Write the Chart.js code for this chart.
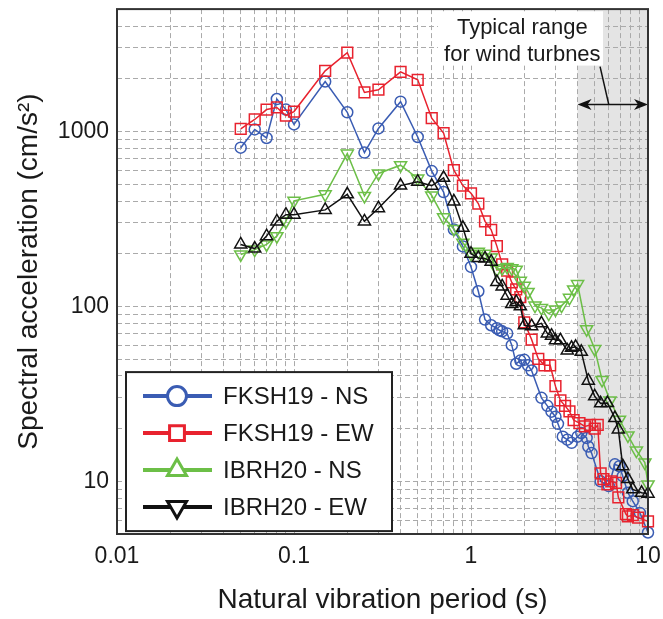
<!DOCTYPE html>
<html><head><meta charset="utf-8">
<script src="https://cdn.jsdelivr.net/npm/chart.js@4/dist/chart.umd.min.js"></script>
<style>html,body{margin:0;padding:0;background:#fff}#wrap{width:663px;height:619px}</style>
</head><body><div id="wrap"><canvas id="c" width="663" height="619"></canvas></div>
<script>
const FONT = "Arial, 'Liberation Sans', Helvetica, sans-serif";

const xGridValues = [0.01,0.02,0.03,0.04,0.05,0.06,0.07,0.08,0.09,0.1,0.2,0.3,0.4,0.5,0.6,0.7,0.8,0.9,1,2,3,4,5,6,7,8,9,10];
const xTickLabels = [0.01,0.1,1,10];
const yGridValues = [5,6,7,8,9,10,20,30,40,50,60,70,80,90,100,200,300,400,500,600,700,800,900,1000,2000,3000,4000,5000];
const yTickLabels = [10,100,1000];

const seriesNames = ['FKSH19 - NS','FKSH19 - EW','IBRH20 - NS','IBRH20 - EW'];

const fkshNS_T  = [0.05,0.06,0.07,0.08,0.09,0.1,0.15,0.2,0.25,0.3,0.4,0.5,0.6,0.7,0.8,0.9,1.0,1.1,1.2,1.3,1.4,1.45,1.5,1.6,1.7,1.8,1.9,2.0,2.1,2.2,2.5,2.7,2.85,3.0,3.1,3.3,3.5,3.7,4.0,4.2,4.5,4.6,4.8,5.4,6.0,6.5,6.9,7.2,7.7,8.2,9.0,10];
const fkshNS_Sa = [807,1026,917,1531,1333,1096,1928,1286,757,1040,1479,929,593,450,275,220,168,122,84,78,75,73,72,70,60,47,49,49.5,46,43,30,27,25,23.4,21.3,18,17.3,16.6,18,18.9,17.7,15.8,14.5,10,9.4,12.5,12.2,10.7,8.6,7.7,6.6,5.1];

const fkshEW_T  = [0.05,0.06,0.07,0.08,0.09,0.1,0.15,0.2,0.25,0.3,0.4,0.5,0.6,0.7,0.8,0.9,1.0,1.1,1.2,1.3,1.4,1.5,1.6,1.7,1.8,1.9,2.0,2.2,2.4,2.6,2.8,3.0,3.2,3.4,3.6,3.8,4.1,4.4,4.7,5.0,5.2,5.4,5.6,5.9,6.2,6.6,6.8,7.5,7.7,8.2,8.8,10];
const fkshEW_Sa = [1034,1170,1333,1370,1232,1298,2217,2818,1670,1730,2188,1973,1190,978,601,490,443,387,306,274,221,174,160,137,125,113,81,64.6,50.1,46,46,35,29,27,25.1,22.4,21.5,20.6,21,20,21,11.1,10.3,9.6,10,9.8,8.1,6.5,6.3,6.4,6.2,5.9];

const ibrNS_T  = [0.05,0.06,0.07,0.08,0.09,0.1,0.15,0.2,0.25,0.3,0.4,0.5,0.6,0.7,0.8,0.9,1.0,1.1,1.2,1.3,1.4,1.5,1.6,1.7,1.8,1.9,2.0,2.1,2.3,2.5,2.75,3.0,3.25,3.6,3.8,4.0,4.5,5.0,5.5,6.1,6.9,7.7,8.6,9.6,10];
const ibrNS_Sa = [198,211,226,252,306,401,437,747,428,575,641,538,430,323,277,231,200,205,200,190,162,165,168,165,162,140,131,121,101,98,91,96,101,112,125,134,74,57,38,29,22.5,18.3,15,12.8,9.6];

const ibrEW_T  = [0.05,0.06,0.07,0.08,0.09,0.1,0.15,0.2,0.25,0.3,0.4,0.5,0.6,0.7,0.8,0.9,1.0,1.1,1.2,1.3,1.4,1.5,1.6,1.7,1.8,1.9,2.0,2.2,2.5,2.7,2.85,3.0,3.2,3.5,3.7,3.9,4.2,4.6,5.0,5.4,5.9,6.5,6.8,7.2,7.7,8.2,9.2,10];
const ibrEW_Sa = [226,214,252,306,334,334,356,437,306,364,490,516,489,543,398,281,200,189,188,180,138,130,115,103,106,100,78,77,80,70,68,64,64,56,58,58.7,55,37.6,30.6,27.9,28,23,19.8,12.2,10.3,9.0,8.6,8.5];

const colors = ['#3a5cb3','#e8222e','#6cbf47','#111111'];
const markerStyles = [
  {style:'circle', radius:5.5, rotation:0},
  {style:'rect', radius:7.6, rotation:0},
  {style:'triangle', radius:7, rotation:180},
  {style:'triangle', radius:7, rotation:0}
];
const legendMarkers = [
  {style:'circle', r:9.5, rot:0},
  {style:'rect', r:10.5, rot:0},
  {style:'triangle', r:11, rot:0},
  {style:'triangle', r:11, rot:180}
];

// annotation anchors in data coordinates
const bandRange = [4, 10];
const noteText = ['Typical range','for wind turbnes'];
const noteCenterT = 1.95, noteLineSa = [3906, 2742];
const noteBox = {t0:0.65, t1:5.57, sa0:2377, sa1:4860};
const arrowSa = 1427;
const leader = {t0:5.36, sa0:2344, t1:6.0, sa1:1427};

const xs = [fkshNS_T, fkshEW_T, ibrNS_T, ibrEW_T];
const ys = [fkshNS_Sa, fkshEW_Sa, ibrNS_Sa, ibrEW_Sa];
const drawOrder = [3,2,1,0];

const datasets = seriesNames.map((n,i)=>({
  label:n,
  data: xs[i].map((t,k)=>({x:t, y:ys[i][k]})),
  borderColor: colors[i],
  backgroundColor: 'rgba(0,0,0,0)',
  pointBackgroundColor: 'rgba(0,0,0,0)',
  pointBorderColor: colors[i],
  borderWidth: 1.5,
  pointBorderWidth: 1.5,
  pointStyle: markerStyles[i].style,
  pointRadius: markerStyles[i].radius,
  pointRotation: markerStyles[i].rotation,
  pointHoverRadius: markerStyles[i].radius,
  tension: 0,
  clip: false,
  order: drawOrder[i]
}));

function markerPath(ctx, style, x, y, r, rot){
  ctx.beginPath();
  if (style==='circle'){ ctx.arc(x,y,r,0,Math.PI*2); }
  else if (style==='rect'){ const s=r*Math.SQRT1_2; ctx.rect(x-s,y-s,2*s,2*s); }
  else {
    const a0 = rot*Math.PI/180;
    for (let k=0;k<3;k++){
      const a = a0 + k*2*Math.PI/3;
      const px = x + Math.sin(a)*r, py = y - Math.cos(a)*r;
      if(k===0) ctx.moveTo(px,py); else ctx.lineTo(px,py);
    }
    ctx.closePath();
  }
}

const decor = {
  id:'decor',
  beforeDraw(chart){
    const {ctx, chartArea:a, scales:{x,y}} = chart;
    ctx.save();
    ctx.fillStyle='#fff'; ctx.fillRect(0,0,chart.width,chart.height);
    const x0 = x.getPixelForValue(bandRange[0]), x1 = x.getPixelForValue(bandRange[1]);
    ctx.fillStyle='#e4e4e4'; ctx.fillRect(x0,a.top,x1-x0,a.bottom-a.top);
    ctx.restore();
  },
  beforeDatasetsDraw(chart){
    const {ctx, chartArea:a, scales:{x,y}} = chart;
    ctx.save();
    const bx0 = x.getPixelForValue(noteBox.t0), bx1 = x.getPixelForValue(noteBox.t1);
    const by0 = y.getPixelForValue(noteBox.sa1), by1 = y.getPixelForValue(noteBox.sa0);
    ctx.fillStyle='#fff'; ctx.fillRect(bx0,by0,bx1-bx0,by1-by0);
    ctx.fillStyle='#1a1a1a'; ctx.font = '22px '+FONT; ctx.textAlign='center'; ctx.textBaseline='middle';
    const cx = x.getPixelForValue(noteCenterT);
    noteText.forEach((s,i)=>ctx.fillText(s, cx, y.getPixelForValue(noteLineSa[i])));
    const ax0 = x.getPixelForValue(bandRange[0]), ax1 = x.getPixelForValue(bandRange[1]);
    const ay = y.getPixelForValue(arrowSa);
    ctx.strokeStyle='#111'; ctx.fillStyle='#111'; ctx.lineWidth=1.5;
    ctx.beginPath(); ctx.moveTo(ax0+4,ay); ctx.lineTo(ax1-4,ay); ctx.stroke();
    const head=(xt,dir)=>{ ctx.beginPath(); ctx.moveTo(xt,ay); ctx.lineTo(xt+dir*14,ay-5.5); ctx.lineTo(xt+dir*10,ay); ctx.lineTo(xt+dir*14,ay+5.5); ctx.closePath(); ctx.fill(); };
    head(ax0,1); head(ax1,-1);
    ctx.beginPath();
    ctx.moveTo(x.getPixelForValue(leader.t0), y.getPixelForValue(leader.sa0));
    ctx.lineTo(x.getPixelForValue(leader.t1), y.getPixelForValue(leader.sa1));
    ctx.stroke();
    ctx.restore();
  },
  afterDraw(chart){
    const {ctx, chartArea:a} = chart;
    ctx.save();
    ctx.strokeStyle='#333'; ctx.lineWidth=2;
    ctx.strokeRect(a.left, a.top, a.right-a.left, a.bottom-a.top);
    const lx0 = a.left+9, ly0 = a.top+363, lw = 266, lh = 159;
    ctx.fillStyle='#fff'; ctx.fillRect(lx0,ly0,lw,lh);
    ctx.strokeStyle='#222'; ctx.lineWidth=2; ctx.strokeRect(lx0,ly0,lw,lh);
    ctx.font='24px '+FONT; ctx.textAlign='left'; ctx.textBaseline='middle';
    seriesNames.forEach((n,i)=>{
      const yy = ly0 + 24 + i*37;
      ctx.strokeStyle=colors[i]; ctx.lineWidth=4;
      ctx.beginPath(); ctx.moveTo(lx0+17,yy); ctx.lineTo(lx0+86,yy); ctx.stroke();
      ctx.lineWidth=3;
      const m = legendMarkers[i];
      markerPath(ctx, m.style, lx0+51, yy, m.r, m.rot);
      ctx.fillStyle='#fff'; ctx.fill(); ctx.stroke();
      ctx.fillStyle='#1a1a1a';
      ctx.fillText(n, lx0+97, yy+1);
    });
    ctx.restore();
  }
};

new Chart(document.getElementById('c'), {
  type:'line',
  data:{datasets},
  options:{
    responsive:false, animation:false, devicePixelRatio:1,
    layout:{padding:{left:0,right:15,top:6,bottom:0}},
    plugins:{legend:{display:false}, tooltip:{enabled:false}},
    scales:{
      x:{type:'logarithmic', min:0.01, max:10,
        afterBuildTicks:s=>{ s.ticks = xGridValues.map(v=>({value:v})); },
        afterFit:s=>{ s.height = 85; s.paddingLeft = 0; s.paddingRight = 0; },
        ticks:{autoSkip:false, maxRotation:0, padding:9, color:'#1a1a1a', font:{size:23,family:FONT},
          callback:(v)=> xTickLabels.includes(v) ? String(v) : ''},
        grid:{color:'#aaaaaa', lineWidth:1, drawTicks:false},
        border:{display:false, dash:[5,3]},
        title:{display:true, text:'Natural vibration period (s)', color:'#1a1a1a', font:{size:28,family:FONT}, padding:{top:0,bottom:2}}
      },
      y:{type:'logarithmic', min:5, max:5000,
        afterBuildTicks:s=>{ s.ticks = yGridValues.map(v=>({value:v})); },
        afterFit:s=>{ s.width = 117; s.paddingTop = 0; s.paddingBottom = 0; },
        ticks:{autoSkip:false, padding:8, color:'#1a1a1a', font:{size:23,family:FONT},
          callback:(v)=> yTickLabels.includes(v) ? String(v) : ''},
        grid:{color:'#aaaaaa', lineWidth:1, drawTicks:false},
        border:{display:false, dash:[5,3]},
        title:{display:true, text:'Spectral acceleration (cm/s²)', color:'#1a1a1a', font:{size:28,family:FONT}, padding:{top:12,bottom:0}}
      }
    }
  },
  plugins:[decor]
});
</script></body></html>
